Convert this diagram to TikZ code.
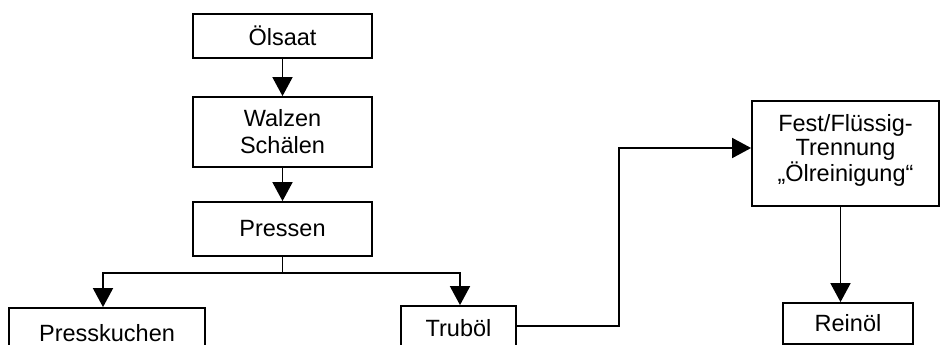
\documentclass[tikz,border=0pt]{standalone}
\usepackage{fontspec}
\setmainfont{Liberation Sans}
\usetikzlibrary{arrows.meta}
\begin{document}
\begin{tikzpicture}[x=1pt,y=-1pt,
  box/.style={draw, line width=1.8pt, inner sep=0pt, align=center, font=\fontsize{23.5}{27}\selectfont},
  conn/.style={line width=1.8pt},
  arr/.style={conn, -{Triangle[length=19pt,width=20pt]}}]
\useasboundingbox (0,0) rectangle (940,345);
\clip (0,0) rectangle (940,345);
\node[box, minimum width=179pt, minimum height=44pt] (os) at (282.5,36) {Ölsaat};
\node[box, minimum width=179pt, minimum height=70pt] (wz) at (282.5,132) {Walzen\\Schälen};
\node[box, minimum width=179pt, minimum height=54pt] (pr) at (282.5,229) {Pressen};
\node[box, minimum width=196pt, minimum height=50pt] (pk) at (107,333) {Presskuchen};
\node[box, minimum width=115pt, minimum height=44pt] (tb) at (458.5,328) {Truböl};
\node[box, minimum width=187pt, minimum height=105pt, text depth=11pt, font=\fontsize{23.5}{23.5}\selectfont] (fe) at (845.5,153.5) {Fest/Flüssig-\\Trennung\\„Ölreinigung“};
\node[box, minimum width=130pt, minimum height=41pt] (rn) at (848,323.5) {Reinöl};
\draw[arr] (os) -- (wz);
\draw[arr] (wz) -- (pr);
\coordinate (br) at (282.5,273);
\draw[conn] (pr.south) -- (br);
\draw[arr] (br) -| ([xshift=-4pt]pk.north);
\draw[arr] (br) -| ([xshift=1.5pt]tb.north);
\coordinate (xt) at (619,0);
\draw[arr] ([yshift=2pt]tb.east) -- ([yshift=2pt]tb.east -| xt) |- ([yshift=5.5pt]fe.west);
\draw[arr] ([xshift=-5pt]fe.south) -- ([xshift=-5pt]fe.south |- rn.north);
\end{tikzpicture}
\end{document}
